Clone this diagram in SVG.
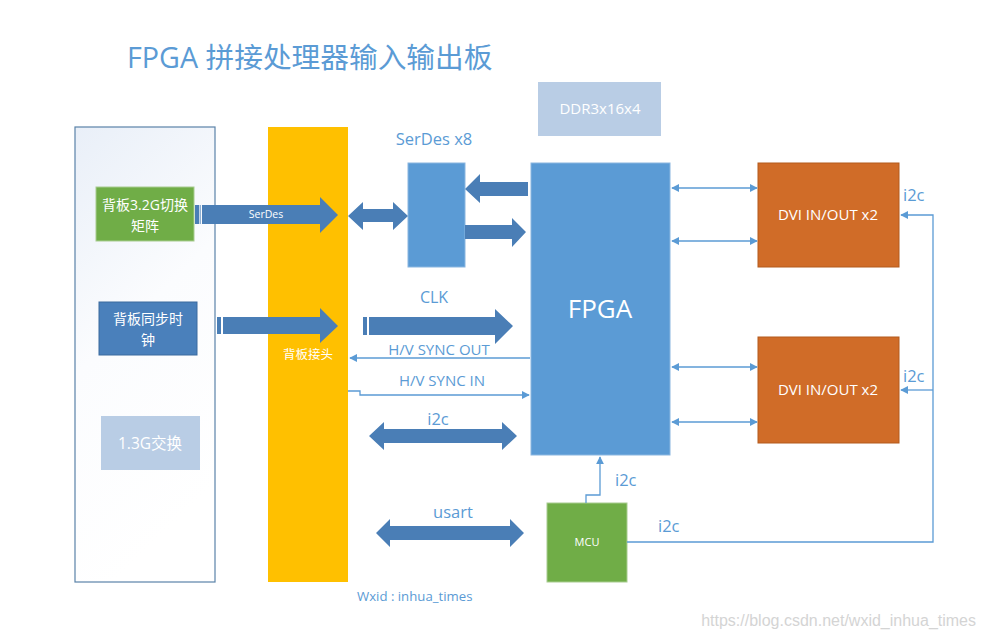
<svg xmlns="http://www.w3.org/2000/svg" width="985" height="638" viewBox="0 0 985 638">
<defs>
<linearGradient id="panelGrad" x1="0" y1="0" x2="0.3" y2="1">
<stop offset="0" stop-color="#e9eff8"/>
<stop offset="0.5" stop-color="#fbfcfe"/>
<stop offset="1" stop-color="#ffffff"/>
</linearGradient>
<marker id="ah" viewBox="0 0 10 10" refX="9" refY="5" markerWidth="8" markerHeight="8" markerUnits="userSpaceOnUse" orient="auto-start-reverse">
<path d="M0,0 L10,5 L0,10 z" fill="#5b9bd5"/>
</marker>
<style>
.t{font-family:"Open Sans","Noto Sans CJK SC",sans-serif;}
.lbl{font-family:"Open Sans","Noto Sans CJK SC",sans-serif;fill:#5b9bd5;}
.wt{fill:#ffffff;text-anchor:middle;}
.ln{stroke:#5b9bd5;stroke-width:1.3;fill:none;}
.ba{fill:#4a7eb6;}
</style>
</defs>
<rect width="985" height="638" fill="#ffffff"/>

<text class="lbl" x="127" y="68" font-size="28.7">FPGA 拼接处理器输入输出板</text>

<g id="backplane-panel">
<rect x="75" y="127" width="140" height="455" fill="url(#panelGrad)" stroke="#5a82a8" stroke-width="1.2"/>
</g>
<g id="connector-bar">
<rect x="268" y="127" width="80" height="455" fill="#ffc000"/>
<text class="t wt" x="308" y="359" font-size="12.5">背板接头</text>
</g>
<g id="switch-matrix">
<rect x="96" y="187" width="98" height="54" fill="#70ad47" stroke="#a8cc90" stroke-width="1"/>
<text class="t wt" x="145" y="210" font-size="14">背板3.2G切换</text>
<text class="t wt" x="145" y="231" font-size="14">矩阵</text>
</g>
<g id="sync-clock">
<rect x="99" y="302" width="98" height="53" fill="#4a80bb" stroke="#3a6a9e" stroke-width="1"/>
<text class="t wt" x="148" y="324" font-size="14">背板同步时</text>
<text class="t wt" x="148" y="345" font-size="14">钟</text>
</g>
<g id="switch-13g">
<rect x="101" y="416" width="99" height="54" fill="#b9cde5"/>
<text class="t wt" x="150" y="449" font-size="15.5">1.3G交换</text>
</g>
<g id="ddr">
<rect x="538" y="82" width="123" height="54" fill="#b9cde5"/>
<text class="t wt" x="600" y="114" font-size="15">DDR3x16x4</text>
</g>
<g id="serdes">
<rect x="408" y="163" width="57" height="104" fill="#5b9bd5" stroke="#8ab6e0" stroke-width="1"/>
<text class="lbl" x="434" y="145" font-size="16.5" text-anchor="middle">SerDes x8</text>
</g>
<g id="fpga">
<rect x="531" y="163" width="139" height="292" fill="#5b9bd5" stroke="#8ab6e0" stroke-width="1"/>
<text class="t wt" x="600" y="318" font-size="26">FPGA</text>
</g>
<g id="dvi1">
<rect x="758" y="163" width="141" height="104" fill="#d06c28" stroke="#b35a1c" stroke-width="1"/>
<text class="t wt" x="828" y="220" font-size="15">DVI IN/OUT x2</text>
</g>
<g id="dvi2">
<rect x="758" y="337" width="141" height="106" fill="#d06c28" stroke="#b35a1c" stroke-width="1"/>
<text class="t wt" x="828" y="395" font-size="15">DVI IN/OUT x2</text>
</g>
<g id="mcu">
<rect x="547" y="503" width="80" height="79" fill="#70ad47" stroke="#a8cc90" stroke-width="1"/>
<text class="t wt" x="587" y="546" font-size="11">MCU</text>
</g>

<g id="connectors">
<!-- SerDes block arrow -->
<rect class="ba" x="195" y="205" width="4" height="19"/>
<rect class="ba" x="199.5" y="205" width="1.5" height="19" opacity="0.6"/>
<polygon class="ba" points="202,205 320,205 320,197 338,215 320,233 320,224 202,224"/>
<text class="t" x="266" y="218" font-size="10.5" fill="#ffffff" text-anchor="middle">SerDes</text>
<!-- clock block arrow -->
<rect class="ba" x="217" y="317" width="4" height="17"/>
<polygon class="ba" points="223,317 320,317 320,308 338,326 320,343 320,334 223,334"/>
<!-- yellow to serdes double arrow -->
<polygon class="ba" points="348,216 363,202 363,209 393,209 393,202 408,216 393,230 393,222 363,222 363,230"/>
<!-- fpga to serdes -->
<polygon class="ba" points="465,189 480,174 480,182 528,182 528,196 480,196 480,203"/>
<!-- serdes to fpga -->
<polygon class="ba" points="465,225 512,225 512,218 526,232 512,247 512,239 465,239"/>
<!-- CLK -->
<rect class="ba" x="363" y="317" width="4" height="18"/>
<polygon class="ba" points="369,317 495,317 495,309 513,326 495,344 495,335 369,335"/>
<text class="lbl" x="434" y="303" font-size="16" text-anchor="middle">CLK</text>
<!-- HV sync out -->
<line class="ln" x1="530" y1="358" x2="350" y2="358" marker-end="url(#ah)"/>
<text class="lbl" x="439" y="355" font-size="15" text-anchor="middle">H/V SYNC OUT</text>
<!-- HV sync in -->
<polyline class="ln" points="348,391 360,391 360,395 529,395" marker-end="url(#ah)"/>
<text class="lbl" x="442" y="386" font-size="15" text-anchor="middle">H/V SYNC IN</text>
<!-- i2c double arrow -->
<polygon class="ba" points="369,436 384,422 384,429 502,429 502,422 517,436 502,450 502,443 384,443 384,450"/>
<text class="lbl" x="438" y="425" font-size="16.5" text-anchor="middle">i2c</text>
<!-- usart double arrow -->
<polygon class="ba" points="376,533 390,519 390,526 510,526 510,519 524,533 510,547 510,540 390,540 390,547"/>
<text class="lbl" x="453" y="518" font-size="16.5" text-anchor="middle">usart</text>
<!-- FPGA-DVI lines -->
<line class="ln" x1="672" y1="188" x2="757" y2="188" marker-start="url(#ah)" marker-end="url(#ah)"/>
<line class="ln" x1="672" y1="241" x2="757" y2="241" marker-start="url(#ah)" marker-end="url(#ah)"/>
<line class="ln" x1="672" y1="367" x2="757" y2="367" marker-start="url(#ah)" marker-end="url(#ah)"/>
<line class="ln" x1="672" y1="422" x2="757" y2="422" marker-start="url(#ah)" marker-end="url(#ah)"/>
<!-- MCU to FPGA -->
<polyline class="ln" points="586,503 586,495 600,495 600,457" marker-end="url(#ah)"/>
<text class="lbl" x="615" y="486" font-size="16.5">i2c</text>
<!-- MCU to DVI -->
<polyline class="ln" points="627,542 933,542 933,215 901,215" marker-end="url(#ah)"/>
<line class="ln" x1="933" y1="390" x2="901" y2="390" marker-end="url(#ah)"/>
<text class="lbl" x="903" y="201" font-size="16.5">i2c</text>
<text class="lbl" x="903" y="382" font-size="16.5">i2c</text>
<text class="lbl" x="658" y="532" font-size="16.5">i2c</text>
</g>

<text class="lbl" x="357" y="601" font-size="13.2">Wxid : inhua_times</text>
<text x="976" y="626" font-size="16" fill="#d4d4d4" text-anchor="end" font-family="Liberation Sans, Arial, sans-serif">https://blog.csdn.net/wxid_inhua_times</text>
</svg>
